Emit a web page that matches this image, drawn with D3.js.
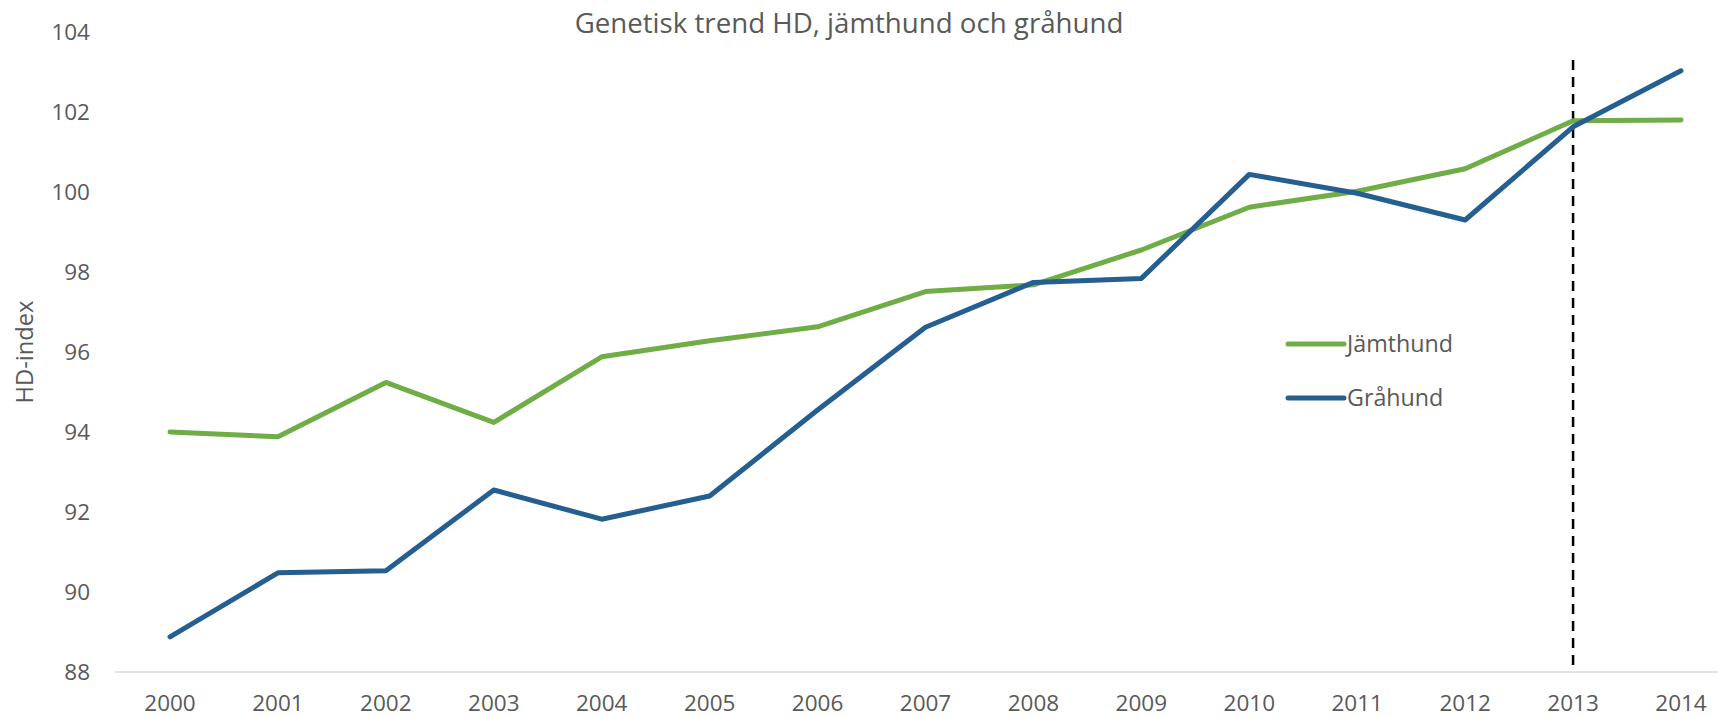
<!DOCTYPE html>
<html>
<head>
<meta charset="utf-8">
<script src="https://cdn.jsdelivr.net/npm/d3@7"></script>
<style>
  html, body { margin: 0; padding: 0; background: #fff; }
  svg { display: block; }
  text { font-family: "Open Sans", "Noto Sans", sans-serif; fill: #595959; }
</style>
</head>
<body>
<svg id="chart" width="1718" height="717"></svg>
<script>
const years = ["2000","2001","2002","2003","2004","2005","2006","2007","2008","2009","2010","2011","2012","2013","2014"];
const jamthund = [94.0, 93.88, 95.24, 94.24, 95.88, 96.28, 96.63, 97.51, 97.68, 98.55, 99.62, 100.02, 100.58, 101.78, 101.8];
const grahund  = [88.88, 90.48, 90.53, 92.55, 91.82, 92.4, 94.55, 96.62, 97.74, 97.84, 100.44, 99.97, 99.3, 101.63, 103.03];
const yTicks = [88, 90, 92, 94, 96, 98, 100, 102, 104];
const seriesNames = ["Jämthund", "Gråhund"];
const markerYear = "2013";
const markerRange = [88, 103.3];
const titleText = "Genetisk trend HD, jämthund och gråhund";
const yTitle = "HD-index";

const colors = ["#70AD47", "#255E91"];
const svg = d3.select("#chart");

const x = d3.scalePoint().domain(years).range([170, 1681]);
const y = d3.scaleLinear().domain([88, 104]).range([672, 32]);

// x axis baseline
svg.append("line")
  .attr("x1", 115).attr("x2", 1718)
  .attr("y1", y(88)).attr("y2", y(88))
  .attr("stroke", "#d9d9d9").attr("stroke-width", 1.5);

// x tick labels
svg.append("g").selectAll("text").data(years).join("text")
  .attr("x", d => x(d)).attr("y", 711)
  .attr("text-anchor", "middle")
  .style("font-size", "22.5px")
  .text(d => d);

// y tick labels
svg.append("g").selectAll("text").data(yTicks).join("text")
  .attr("x", 90).attr("y", d => y(d))
  .attr("dy", "0.35em")
  .attr("text-anchor", "end")
  .style("font-size", "22.5px")
  .text(d => d);

// y title
const yt = svg.append("text")
  .attr("transform", "translate(33,352) rotate(-90)")
  .attr("text-anchor", "middle")
  .style("font-size", "22px")
  .text(yTitle);
const ytw = yt.node().getComputedTextLength();
yt.style("font-size", (22 * 103 / ytw).toFixed(2) + "px");

// title
const title = svg.append("text")
  .attr("x", 849).attr("y", 33)
  .attr("text-anchor", "middle")
  .style("font-size", "25px")
  .text(titleText);
const tw = title.node().getComputedTextLength();
title.style("font-size", (25 * 549 / tw).toFixed(2) + "px");

// marker dashed line
svg.append("line")
  .attr("x1", x(markerYear)).attr("x2", x(markerYear))
  .attr("y1", y(markerRange[1])).attr("y2", y(markerRange[0]) - 4)
  .attr("stroke", "#000").attr("stroke-width", 2.5)
  .attr("stroke-dasharray", "10,7");

const line = d3.line().x((d, i) => x(years[i])).y(d => y(d));
[jamthund, grahund].forEach((s, k) => {
  svg.append("path")
    .datum(s)
    .attr("d", line)
    .attr("fill", "none")
    .attr("stroke", colors[k])
    .attr("stroke-width", 5)
    .attr("stroke-linecap", "round")
    .attr("stroke-linejoin", "round");
});

// legend
const legend = svg.append("g");
seriesNames.forEach((name, k) => {
  const ly = 344 + k * 54;
  legend.append("line")
    .attr("x1", 1288).attr("x2", 1344)
    .attr("y1", ly).attr("y2", ly)
    .attr("stroke", colors[k]).attr("stroke-width", 5)
    .attr("stroke-linecap", "round");
  const t = legend.append("text")
    .attr("x", 1347).attr("y", ly)
    .attr("dy", "0.35em")
    .style("font-size", "22px")
    .text(name);
  if (k === 0) {
    const w = t.node().getComputedTextLength();
    legend.attr("data-fs", (22 * 106 / w).toFixed(2));
  }
});
const lfs = legend.attr("data-fs");
legend.selectAll("text").style("font-size", lfs + "px");
</script>
</body>
</html>
